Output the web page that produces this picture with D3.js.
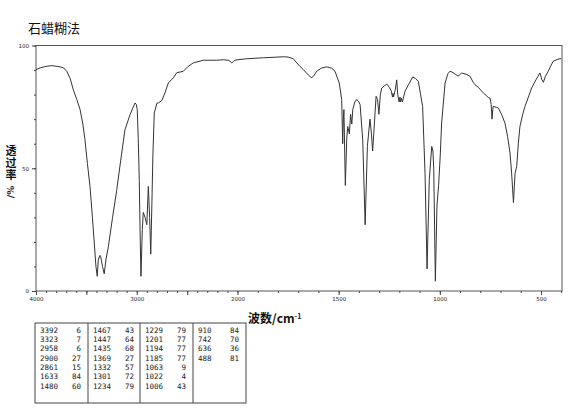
<!DOCTYPE html>
<html><head><meta charset="utf-8">
<script src="https://cdn.jsdelivr.net/npm/d3@7"></script>
<style>body{margin:0;background:#fff}svg{display:block}</style>
</head><body><svg id="c" width="570" height="413"></svg>
<script>
const title = "石蜡糊法";
const xTitle = "波数/cm";
const xTitleSup = "-1";
const yTitle = "透过率";
const yTitleUnit = "/%";

// spectrum (wavenumber cm-1, transmittance %)
const wavenumbers = [4000,3950,3900,3844,3790,3729,3695,3660,3630,3595,3563,3535,3514,3490,3464,3440,3424,3405,3392,3382,3366,3358,3340,3323,3305,3282,3240,3199,3160,3117,3067,3040,3017,3005,2995,2985,2975,2965,2958,2945,2935,2918,2900,2885,2872,2861,2850,2840,2826,2800,2786,2752,2720,2687,2637,2603,2538,2490,2439,2339,2206,2141,2090,2074,2058,2040,2025,2000,1955,1872,1774,1750,1724,1707,1691,1675,1650,1633,1620,1609,1585,1559,1535,1518,1497,1485,1480,1477,1474,1467,1460,1455,1447,1441,1435,1430,1420,1411,1400,1394,1381,1369,1358,1350,1345,1338,1332,1325,1315,1308,1301,1294,1287,1275,1262,1250,1240,1234,1231,1229,1220,1213,1208,1201,1197,1194,1190,1185,1172,1155,1134,1120,1106,1095,1085,1073,1063,1052,1040,1034,1030,1022,1014,1006,998,991,974,960,950,935,925,910,892,870,851,835,826,810,785,760,752,746,742,738,736,720,711,695,678,665,653,645,636,628,620,612,604,590,579,560,546,525,505,495,488,478,464,450,439,420,406,400];
const transmittance = [90.2,91.0,91.5,91.8,91.5,91.0,89.5,86.5,82.0,78.0,74.0,68.0,61.6,52.0,42.6,30.0,20.8,10.0,6.0,12.6,14.5,14.0,10.0,7.0,13.0,18.0,30.0,41.0,53.0,65.7,71.8,74.5,76.6,76.0,73.9,62.0,45.0,20.0,6.0,25.0,32.0,30.0,27.0,42.6,30.0,15.0,35.0,55.0,72.5,76.5,76.6,77.5,80.7,84.7,86.8,88.9,89.5,91.5,92.9,94.0,94.0,94.2,94.0,93.6,92.9,93.5,94.0,94.2,94.6,95.0,95.4,95.3,94.6,92.9,91.5,90.2,88.0,86.8,88.0,89.5,90.8,91.3,90.8,89.5,84.7,78.0,60.0,70.0,73.9,43.0,62.0,67.0,64.0,72.0,68.0,74.0,77.0,78.0,77.0,75.9,61.6,27.0,58.9,66.0,70.0,64.0,57.0,66.0,79.3,78.0,72.0,80.0,82.7,83.5,84.3,83.0,81.5,79.0,80.5,79.0,82.0,86.0,80.0,77.0,79.0,77.0,78.5,77.0,81.4,84.0,87.2,86.5,85.4,80.0,75.2,48.0,9.0,45.3,58.9,57.0,50.0,4.0,35.0,43.0,55.0,68.4,84.7,88.5,89.5,89.0,88.4,87.5,88.8,88.3,87.5,85.0,84.0,83.0,80.7,78.8,78.6,76.0,70.0,74.0,75.2,74.8,74.6,72.0,68.4,63.0,56.2,48.0,36.0,48.0,50.7,60.0,67.0,72.0,75.2,79.5,82.7,86.0,88.8,86.0,85.0,87.5,89.5,92.0,93.6,94.3,94.6,94.6];

const xMajorTicks = [4000,3500,3000,2500,2000,1500,1000,500];
const xTickLabels = [4000,3000,2000,1500,1000,500];
const yMajorTicks = [0,50,100];

// peak table
const peakWavenumbers = [3392,3323,2958,2900,2861,1633,1480, 1467,1447,1435,1369,1332,1301,1234, 1229,1201,1194,1185,1063,1022,1006, 910,742,636,488];
const peakValues      = [6,7,6,27,15,84,60, 43,64,68,27,57,72,79, 79,77,77,77,9,4,43, 84,70,36,81];

const svg = d3.select("#c");
const x = d3.scaleLinear().domain([4000, 2000, 400]).range([36, 237.5, 561.2]);
const y = d3.scaleLinear().domain([0, 100]).range([291, 45.5]);
const pL = 36, pR = 562, pT = 45.5, pB = 291;

// title
svg.append("text").attr("x", 28).attr("y", 33)
  .attr("font-family", "Noto Sans CJK SC").attr("font-size", 13).attr("fill", "#111")
  .text(title);

// frame
svg.append("rect").attr("x", pL).attr("y", pT).attr("width", pR - pL).attr("height", pB - pT)
  .attr("fill", "none").attr("stroke", "#555").attr("stroke-width", 1);

// x axis: minor + major
const minorX = d3.range(4000, 399, -100);
const gxMinor = svg.append("g").attr("transform", `translate(0,${pB})`)
  .call(d3.axisBottom(x).tickValues(minorX).tickSize(2).tickFormat(""));
const gxMajor = svg.append("g").attr("transform", `translate(0,${pB})`)
  .call(d3.axisBottom(x).tickValues(xMajorTicks).tickSize(4).tickPadding(2)
    .tickFormat(d => xTickLabels.includes(d) ? d : ""));
[gxMinor, gxMajor].forEach(g => {
  g.select(".domain").remove();
  g.selectAll("line").attr("stroke", "#444");
  g.selectAll("text").attr("font-family", "DejaVu Sans").attr("font-size", 5.5).attr("fill", "#222");
});

// y axis
const gyMinor = svg.append("g").attr("transform", `translate(${pL},0)`)
  .call(d3.axisLeft(y).tickValues(d3.range(0, 101, 10)).tickSize(2).tickFormat(""));
const gyMajor = svg.append("g").attr("transform", `translate(${pL},0)`)
  .call(d3.axisLeft(y).tickValues(yMajorTicks).tickSize(4).tickPadding(3));
[gyMinor, gyMajor].forEach(g => {
  g.select(".domain").remove();
  g.selectAll("line").attr("stroke", "#444");
  g.selectAll("text").attr("font-family", "DejaVu Sans").attr("font-size", 5.5).attr("fill", "#222");
});

// spectrum
const pts = wavenumbers.map((w, i) => [w, transmittance[i]]);
svg.append("path").datum(pts)
  .attr("fill", "none").attr("stroke", "#333").attr("stroke-width", 1)
  .attr("d", d3.line().x(d => x(d[0])).y(d => y(d[1])));

// x title
const xt = svg.append("text").attr("x", 248).attr("y", 323)
  .attr("font-family", "Noto Sans CJK SC").attr("font-weight", "bold").attr("font-size", 12).attr("fill", "#111");
xt.append("tspan").text(xTitle);
xt.append("tspan").attr("dy", -4).attr("font-size", 7).text(xTitleSup);

// y title (vertical writing)
svg.append("text").attr("x", 11).attr("y", 145)
  .style("writing-mode", "vertical-rl")
  .attr("font-family", "Noto Sans CJK SC").attr("font-weight", "bold").attr("font-size", 11)
  .attr("letter-spacing", 1).attr("fill", "#111")
  .text(yTitle);
svg.append("text").attr("transform", "translate(14,192) rotate(-90)").attr("text-anchor", "middle")
  .attr("font-family", "DejaVu Serif").attr("font-weight", "bold").attr("font-size", 9.5).attr("fill", "#111")
  .text(yTitleUnit);

// peak table
const rowsPerCol = 7;
const colX = [35, 88, 140, 193, 246];
const tTop = 323, tBot = 403;
const tg = svg.append("g");
tg.append("rect").attr("x", colX[0]).attr("y", tTop).attr("width", colX[4] - colX[0]).attr("height", tBot - tTop)
  .attr("fill", "none").attr("stroke", "#444").attr("stroke-width", 1);
colX.slice(1, 4).forEach(cx => tg.append("line").attr("x1", cx).attr("x2", cx).attr("y1", tTop).attr("y2", tBot)
  .attr("stroke", "#444").attr("stroke-width", 1));
peakWavenumbers.forEach((w, i) => {
  const col = Math.floor(i / rowsPerCol), row = i % rowsPerCol;
  const by = 332.5 + row * 9.35;
  tg.append("text").attr("x", colX[col] + 5).attr("y", by)
    .attr("font-family", "DejaVu Sans Mono").attr("font-size", 7.5).attr("fill", "#222").text(w);
  tg.append("text").attr("x", colX[col] + 46).attr("y", by).attr("text-anchor", "end")
    .attr("font-family", "DejaVu Sans Mono").attr("font-size", 7.5).attr("fill", "#222").text(peakValues[i]);
});
</script></body></html>
